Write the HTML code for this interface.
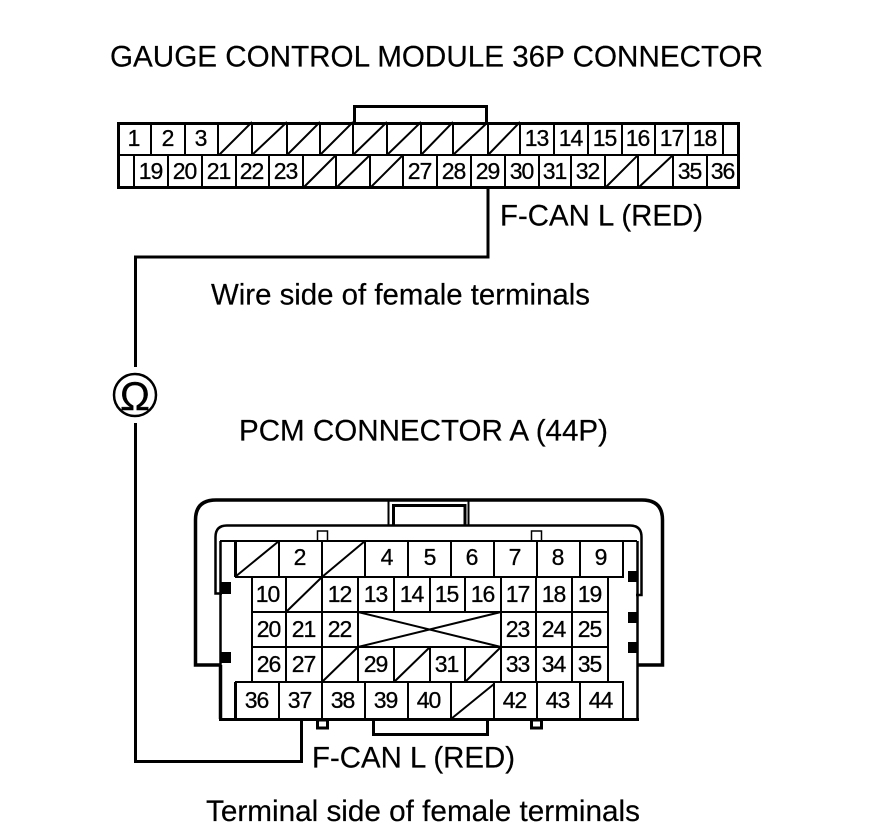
<!DOCTYPE html>
<html><head><meta charset="utf-8"><style>html,body{margin:0;padding:0;background:#fff}svg{display:block}text{font-family:"Liberation Sans",sans-serif;fill:#000}.n{font-size:23px;text-anchor:middle;letter-spacing:-1px;stroke:#000;stroke-width:.3px;transform:translateX(-.5px)}.l{font-size:29.5px;stroke:#000;stroke-width:.2px}</style></head><body>
<svg width="880" height="838" viewBox="0 0 880 838" xmlns="http://www.w3.org/2000/svg">
<text class="l" x="110" y="66.500" textLength="653" lengthAdjust="spacingAndGlyphs">GAUGE CONTROL MODULE 36P CONNECTOR</text>
<g fill="none" stroke="#000" stroke-width="2" shape-rendering="crispEdges">
<path d="M151 122V155M185 122V155M218 122V155M252 122V155M287 122V155M320 122V155M353 122V155M387 122V155M421 122V155M453 122V155M488 122V155M520 122V155M554 122V155M588 122V155M622 122V155M655 122V155M688 122V155M723 122V155"/>
<path d="M134 155V188M168 155V188M202 155V188M236 155V188M269 155V188M303 155V188M336 155V188M370 155V188M403 155V188M437 155V188M471 155V188M505 155V188M539 155V188M571 155V188M605 155V188M638 155V188M673 155V188M707 155V188"/>
<path d="M117 155H740"/>
</g>
<g fill="none" stroke="#000" stroke-width="2">
<path d="M219 155L252 122M252 155L287 122M287 155L320 122M320 155L353 122M353 155L387 122M387 155L421 122M421 155L453 122M453 155L488 122M488 155L520 122"/>
<path d="M303 188L336 155M336 188L370 155M370 188L403 155M605 188L638 155M638 188L673 155"/>
</g>
<g fill="none" stroke="#000" stroke-width="3" shape-rendering="crispEdges">
<rect x="118.500" y="123.500" width="620" height="64"/>
<path d="M354.500 122V106.500H486.500V122"/>
<path d="M488 189V257H135.500V367M135.500 423V761.500H301.500V718"/>
</g>
<circle cx="135" cy="395" r="21" fill="#fff" stroke="#000" stroke-width="2.500"/>
<text x="135" y="410" font-size="40" text-anchor="middle" stroke="#000" stroke-width=".4">Ω</text>
<g class="top">
<text class="n" x="134" y="146">1</text><text class="n" x="168" y="146">2</text><text class="n" x="201" y="146">3</text>
<text class="n" x="537" y="146">13</text><text class="n" x="571" y="146">14</text><text class="n" x="605" y="146">15</text><text class="n" x="638" y="146">16</text><text class="n" x="672" y="146">17</text><text class="n" x="705" y="146">18</text>
<text class="n" x="151" y="179">19</text><text class="n" x="185" y="179">20</text><text class="n" x="219" y="179">21</text><text class="n" x="252" y="179">22</text><text class="n" x="286" y="179">23</text>
<text class="n" x="420" y="179">27</text><text class="n" x="454" y="179">28</text><text class="n" x="488" y="179">29</text><text class="n" x="522" y="179">30</text><text class="n" x="555" y="179">31</text><text class="n" x="588" y="179">32</text><text class="n" x="690" y="179">35</text><text class="n" x="723" y="179">36</text>
</g>
<text class="l" x="500" y="225.500" textLength="203" lengthAdjust="spacingAndGlyphs">F-CAN L (RED)</text>
<text class="l" x="211" y="304.500" textLength="379" lengthAdjust="spacingAndGlyphs">Wire side of female terminals</text>
<text class="l" x="239" y="440.500" textLength="369" lengthAdjust="spacingAndGlyphs">PCM CONNECTOR A (44P)</text>
<g fill="none" stroke="#000" stroke-width="3">
<path d="M220 665H195.500V520Q195.500 500 216 500H642Q662.500 500 662.500 520V665H637" stroke-width="3.500"/>
<path d="M222 593.500H215.500V537Q215.500 525.500 227 525.500H630Q641.500 525.500 641.500 537V595H636" stroke-width="2.500"/>
<path d="M388.500 525V501M468.500 525V501" stroke-width="2"/>
<path d="M393.500 525V505.500H465V525"/>
<path d="M220.500 541V665M637.500 541V719" stroke-width="2.500"/>
<path d="M220.500 665V719" stroke-width="3.500"/>
<path d="M219 719.500H639" stroke-width="3"/>
<path d="M220 541H637" stroke-width="2"/>
<rect x="317.500" y="531" width="10" height="10" stroke-width="1.500"/>
<rect x="531.500" y="531" width="10" height="10" stroke-width="1.500"/>
<rect x="317.500" y="720" width="10" height="8" stroke-width="3"/>
<rect x="531.500" y="720" width="10" height="8" stroke-width="3"/>
<path d="M373.500 720V734.500H487.500V720"/>
</g>
<g fill="#000">
<rect x="220" y="582" width="11" height="12"/><rect x="220" y="652" width="11" height="11"/>
<rect x="628" y="571" width="10" height="11"/><rect x="628" y="612" width="10" height="11"/><rect x="628" y="642" width="10" height="11"/>
</g>
<g fill="none" stroke="#000" stroke-width="2" shape-rendering="crispEdges">
<path d="M235 577H623V541M279 541V577M322 541V577M365 541V577M408 541V577M451 541V577M494 541V577M537 541V577M580 541V577"/>
<path d="M252 577V682M286 577V682M322 577V682M358 577V682M394 577V612M430 577V612M465 577V612M501 577V682M536 577V682M572 577V682M608 577V682M394 647V682M430 647V682M465 647V682"/>
<path d="M252 612H358M358 612H501M501 612H608M252 647H608"/>
<path d="M235 682H623V719M279 682V719M322 682V719M365 682V719M408 682V719M451 682V719M494 682V719M537 682V719M580 682V719"/>
</g>
<path d="M235.500 541V577M235.500 682V719" stroke="#000" stroke-width="3" fill="none" shape-rendering="crispEdges"/>
<g fill="none" stroke="#000" stroke-width="2">
<path d="M235 577L279 541M322 577L365 541M286 612L322 577M358 612L501 647M358 647L501 612M322 682L358 647M394 682L430 647M465 682L501 647M451 719L494 684"/>
</g>
<text class="n" x="300" y="565">2</text><text class="n" x="387" y="565">4</text><text class="n" x="430" y="565">5</text><text class="n" x="472" y="565">6</text><text class="n" x="515" y="565">7</text><text class="n" x="558" y="565">8</text><text class="n" x="601" y="565">9</text>
<text class="n" x="268" y="602">10</text><text class="n" x="340" y="602">12</text><text class="n" x="376" y="602">13</text><text class="n" x="412" y="602">14</text><text class="n" x="447" y="602">15</text><text class="n" x="483" y="602">16</text><text class="n" x="518" y="602">17</text><text class="n" x="554" y="602">18</text><text class="n" x="590" y="602">19</text>
<text class="n" x="269" y="637">20</text><text class="n" x="304" y="637">21</text><text class="n" x="340" y="637">22</text><text class="n" x="518" y="637">23</text><text class="n" x="554" y="637">24</text><text class="n" x="590" y="637">25</text>
<text class="n" x="269" y="672">26</text><text class="n" x="304" y="672">27</text><text class="n" x="376" y="672">29</text><text class="n" x="447" y="672">31</text><text class="n" x="518" y="672">33</text><text class="n" x="554" y="672">34</text><text class="n" x="590" y="672">35</text>
<text class="n" x="257" y="708">36</text><text class="n" x="300" y="708">37</text><text class="n" x="343" y="708">38</text><text class="n" x="386" y="708">39</text><text class="n" x="429" y="708">40</text><text class="n" x="515" y="708">42</text><text class="n" x="558" y="708">43</text><text class="n" x="601" y="708">44</text>
<text class="l" x="312" y="767.500" textLength="203" lengthAdjust="spacingAndGlyphs">F-CAN L (RED)</text>
<text class="l" x="206" y="821" textLength="434" lengthAdjust="spacingAndGlyphs">Terminal side of female terminals</text>
</svg>
</body></html>
